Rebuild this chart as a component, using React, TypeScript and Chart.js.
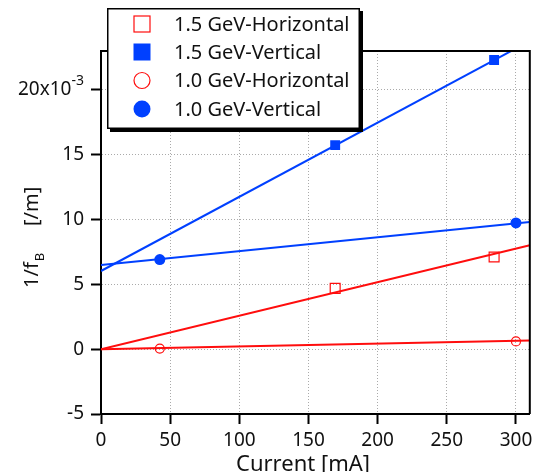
import React, { useEffect, useRef } from 'react';
import { Chart, registerables } from 'chart.js';

Chart.register(...registerables);

// ---- data (values in units of 1e-3 /m) ----
const seriesNames = ['1.5 GeV-Horizontal', '1.5 GeV-Vertical', '1.0 GeV-Horizontal', '1.0 GeV-Vertical'];
const current15 = [169.3, 284.2];
const h15 = [4.69, 7.11];
const v15 = [15.74, 22.31];
const current10 = [42.5, 300];
const h10 = [0.05, 0.6];
const v10 = [6.91, 9.74];
const fitCurrent = [0, 310];
const fitH15 = [0, 8.01];
const fitV15 = [6.03, 23.77];
const fitH10 = [0, 0.67];
const fitV10 = [6.49, 9.81];
const xMin = 0;
const xMax = 310;
const yMin = -5;
const yMax = 23;
const xStep = 50;
const yStep = 5;

const RED = '#ff0d0d';
const BLUE = '#0040ff';
const FONT = '"Noto Sans", sans-serif';

const pts = (xs: number[], ys: number[]) => xs.map((x, i) => ({ x, y: ys[i] }));

const fitLine = (ys: number[], color: string) => ({
  data: pts(fitCurrent, ys),
  showLine: true,
  borderColor: color,
  borderWidth: 2,
  pointRadius: 0,
  fill: false,
  order: 2,
});

const customPlugin = {
  id: 'customDraw',
  afterDraw(chart: any) {
    const { ctx, chartArea: ca, scales } = chart;
    ctx.save();
    // frame top and right
    ctx.strokeStyle = '#000';
    ctx.lineWidth = 2;
    ctx.beginPath();
    ctx.moveTo(ca.left - 1, ca.top);
    ctx.lineTo(ca.right, ca.top);
    ctx.lineTo(ca.right, ca.bottom);
    ctx.stroke();

    // 20x10^-3 tick label
    const y20 = scales.y.getPixelForValue(20);
    ctx.fillStyle = '#111';
    ctx.textBaseline = 'middle';
    ctx.textAlign = 'right';
    ctx.font = '14px ' + FONT;
    const supW = ctx.measureText('-3').width;
    ctx.fillText('-3', 84, y20 - 9);
    ctx.font = '19px ' + FONT;
    ctx.fillText('20x10', 84 - supW, y20);

    // y axis title
    ctx.save();
    ctx.translate(38, 288);
    ctx.rotate(-Math.PI / 2);
    ctx.textAlign = 'left';
    ctx.textBaseline = 'alphabetic';
    ctx.font = '20px ' + FONT;
    ctx.fillText('1/f', 0, 0);
    const w1 = ctx.measureText('1/f').width;
    ctx.font = '13px ' + FONT;
    ctx.fillText('B', w1 + 1, 6);
    ctx.font = '20px ' + FONT;
    ctx.fillText('[/m]', 62, 0);
    ctx.restore();

    // x axis title
    ctx.textAlign = 'center';
    ctx.textBaseline = 'alphabetic';
    ctx.font = '22px ' + FONT;
    ctx.fillText('Current [mA]', 303, 471);

    // legend
    const lx = 107, ly = 8, lw = 253, lh = 121;
    ctx.fillStyle = '#000';
    ctx.fillRect(lx + 3, ly + 3, lw, lh);
    ctx.fillStyle = '#fff';
    ctx.fillRect(lx, ly, lw, lh);
    ctx.strokeStyle = '#000';
    ctx.lineWidth = 1.5;
    ctx.strokeRect(lx + 0.75, ly + 0.75, lw - 1.5, lh - 1.5);

    const rows = [24, 52, 80.5, 109];
    const mx = 142;
    const half = 8;
    // open red square
    ctx.strokeStyle = RED;
    ctx.lineWidth = 1.2;
    ctx.strokeRect(mx - half, rows[0] - half, half * 2, half * 2);
    // filled blue square
    ctx.fillStyle = BLUE;
    ctx.fillRect(mx - half - 0.5, rows[1] - half - 0.5, half * 2 + 1, half * 2 + 1);
    // open red circle
    ctx.beginPath();
    ctx.arc(mx, rows[2], half, 0, Math.PI * 2);
    ctx.stroke();
    // filled blue circle
    ctx.beginPath();
    ctx.arc(mx, rows[3], half + 0.5, 0, Math.PI * 2);
    ctx.fill();

    ctx.fillStyle = '#111';
    ctx.textAlign = 'left';
    ctx.textBaseline = 'middle';
    ctx.font = '20px ' + FONT;
    seriesNames.forEach((n, i) => ctx.fillText(n, 174, rows[i] + 1));
    ctx.restore();
  },
};

export default function App() {
  const ref = useRef<HTMLCanvasElement>(null);
  useEffect(() => {
    const gridCommon = {
      color: '#aaa',
      lineWidth: 1,
      tickColor: '#000',
      tickWidth: 2,
      tickLength: 10,
      drawOnChartArea: true,
    };
    const borderCommon = { display: true, color: '#000', width: 2, dash: [1, 2] };
    const chart = new Chart(ref.current as HTMLCanvasElement, {
      type: 'scatter',
      data: {
        datasets: [
          fitLine(fitH15, RED),
          fitLine(fitV15, BLUE),
          fitLine(fitH10, RED),
          fitLine(fitV10, BLUE),
          {
            label: seriesNames[0],
            data: pts(current15, h15),
            pointStyle: 'rect',
            pointRadius: 7,
            borderColor: RED,
            backgroundColor: 'rgba(255,255,255,0)',
            borderWidth: 1.2,
            order: 1,
          },
          {
            label: seriesNames[1],
            data: pts(current15, v15),
            pointStyle: 'rect',
            pointRadius: 7,
            borderColor: BLUE,
            backgroundColor: BLUE,
            borderWidth: 0,
            order: 1,
          },
          {
            label: seriesNames[2],
            data: pts(current10, h10),
            pointStyle: 'circle',
            pointRadius: 4.5,
            borderColor: RED,
            backgroundColor: 'rgba(255,255,255,0)',
            borderWidth: 1.2,
            order: 1,
          },
          {
            label: seriesNames[3],
            data: pts(current10, v10),
            pointStyle: 'circle',
            pointRadius: 5.5,
            borderColor: BLUE,
            backgroundColor: BLUE,
            borderWidth: 0,
            order: 1,
          },
        ] as any,
      },
      options: {
        animation: false,
        responsive: false,
        devicePixelRatio: 1,
        layout: { padding: { top: 51, right: 7, left: 0, bottom: 0 } },
        plugins: { legend: { display: false }, tooltip: { enabled: false } },
        scales: {
          x: {
            type: 'linear',
            min: xMin,
            max: xMax,
            grid: gridCommon,
            border: borderCommon,
            ticks: {
              stepSize: xStep,
              includeBounds: false,
              color: '#111',
              font: { family: FONT, size: 19 },
              padding: 5,
              maxRotation: 0,
            },
            afterFit: (s: any) => {
              s.height = 58;
            },
          },
          y: {
            type: 'linear',
            min: yMin,
            max: yMax,
            grid: gridCommon,
            border: borderCommon,
            ticks: {
              stepSize: yStep,
              includeBounds: false,
              color: '#111',
              font: { family: FONT, size: 19 },
              padding: 7,
              callback: (v: any) => (v === 20 ? '' : String(v)),
            },
            afterFit: (s: any) => {
              s.width = 101;
            },
          },
        },
      } as any,
      plugins: [customPlugin],
    });
    return () => chart.destroy();
  }, []);
  return (
    <div style={{ position: 'fixed', left: 0, top: 0, width: 538, height: 472, background: '#fff' }}>
      <canvas ref={ref} width={538} height={472} style={{ display: 'block', width: 538, height: 472 }} />
    </div>
  );
}
